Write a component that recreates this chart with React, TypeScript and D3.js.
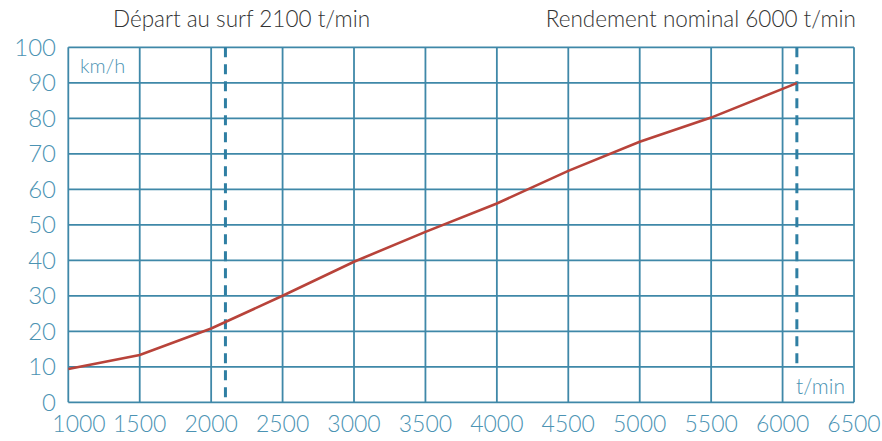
import React from "react";
import * as d3 from "d3";

const rpm = [1000, 1500, 2000, 2500, 3000, 3500, 4000, 4500, 5000, 5500, 6100];
const speed = [9.4, 13.3, 20.8, 30, 39.6, 48, 56, 65.2, 73.4, 80.2, 89.9];
const xTicks = [1000, 1500, 2000, 2500, 3000, 3500, 4000, 4500, 5000, 5500, 6000, 6500];
const yTicks = [0, 10, 20, 30, 40, 50, 60, 70, 80, 90, 100];
const markers = [2100, 6100];
const markerEnds = [0, 11];
const titleLeft = "Départ au surf 2100 t/min";
const titleRight = "Rendement nominal 6000 t/min";
const yUnit = "km/h";
const xUnit = "t/min";

const W = 882, H = 441;
const M = { left: 68.3, right: 854, top: 47.3, bottom: 402.3 };
const GRID = "#3f88a8";
const LABEL = "#4b93b3";
const FONT = "Lato, 'Open Sans', sans-serif";

export default function App() {
  const x = d3.scaleLinear().domain([1000, 6500]).range([M.left, M.right]);
  const y = d3.scaleLinear().domain([0, 100]).range([M.bottom, M.top]);
  const line = d3.line<number>().x((_, i) => x(rpm[i])).y((d) => y(d));
  return (
    <svg width={W} height={H} style={{ position: "absolute", left: 0, top: 0, background: "#fff" }}>
      {xTicks.map((t) => (
        <line key={"vx" + t} x1={x(t)} x2={x(t)} y1={y(0)} y2={y(100)} stroke={GRID} strokeWidth={1.8} />
      ))}
      {yTicks.map((t) => (
        <line key={"hy" + t} x1={x(1000)} x2={x(6500)} y1={y(t)} y2={y(t)} stroke={GRID} strokeWidth={1.8} />
      ))}
      {markers.map((m, i) => (
        <line key={"m" + m} x1={x(m)} x2={x(m)} y1={y(100)} y2={y(markerEnds[i])} stroke="#2f7fa3" strokeWidth={3} strokeDasharray="10 7" />
      ))}
      <path d={line(speed) || ""} fill="none" stroke="#b8433a" strokeWidth={2.6} />
      {yTicks.map((t) => (
        <text key={"yl" + t} x={56} y={y(t)} dy="0.36em" textAnchor="end" fill={LABEL} fontSize={24} fontWeight={300} fontFamily={FONT}>{t}</text>
      ))}
      {xTicks.map((t, i) => (
        <text key={"xl" + t} x={i === 0 ? x(t) - 16 : x(t)} y={432} textAnchor={i === 0 ? "start" : "middle"} fill={LABEL} fontSize={23} fontWeight={300} fontFamily={FONT}>{t}</text>
      ))}
      <text x={80} y={73} fill={LABEL} fontSize={20} fontWeight={300} fontFamily={FONT}>{yUnit}</text>
      <text x={845} y={394} textAnchor="end" fill={LABEL} fontSize={21} fontWeight={300} fontFamily={FONT}>{xUnit}</text>
      <text x={241.5} y={27} textAnchor="middle" fill="#333" fontSize={22.5} fontWeight={300} fontFamily={FONT}>{titleLeft}</text>
      <text x={856} y={27} textAnchor="end" fill="#333" fontSize={22.5} fontWeight={300} fontFamily={FONT}>{titleRight}</text>
    </svg>
  );
}
